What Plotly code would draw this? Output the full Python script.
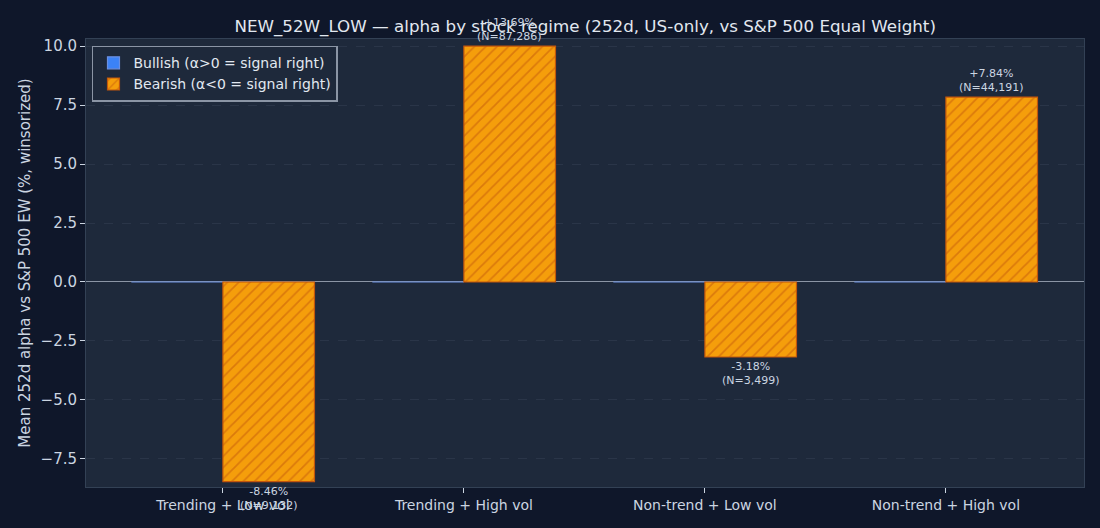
import numpy as np
import plotly.graph_objects as go

categories = ["Trending + Low vol", "Trending + High vol", "Non-trend + Low vol", "Non-trend + High vol"]
bullish_alpha = [0.0, 0.0, 0.0, 0.0]
bearish_alpha = [-8.46, 13.69, -3.18, 7.84]
bearish_n = [9132, 87286, 3499, 44191]
display_cap = 10.0
y_range = [-8.69, 10.30]

xs = list(range(len(categories)))
bear_plot = list(np.minimum(np.array(bearish_alpha), display_cap))

fig = go.Figure()
fig.add_trace(go.Bar(
    x=xs, y=bullish_alpha, name="Bullish (α>0 = signal right)",
    marker=dict(color="#3b82f6", line=dict(color="#6b8fe0", width=1.2)),
    offsetgroup="a",
))
fig.add_trace(go.Bar(
    x=xs, y=bear_plot, name="Bearish (α<0 = signal right)",
    marker=dict(color="#f59e0b", line=dict(color="#c2560c", width=1.2),
                pattern=dict(shape="/", fgcolor="#c2560c", bgcolor="#f59e0b", size=8, solidity=0.22)),
    offsetgroup="b",
))

for i, (v, pv, n) in enumerate(zip(bearish_alpha, bear_plot, bearish_n)):
    txt = f"{v:+.2f}%<br>(N={n:,})"
    fig.add_annotation(
        x=i + 0.19, y=pv, xref="x", yref="y", text=txt, showarrow=False,
        yanchor="bottom" if v >= 0 else "top", yshift=1 if v >= 0 else -1,
        font=dict(size=11, color="#cbd5e1", family="DejaVu Sans"),
    )

fig.update_layout(
    width=1100, height=528,
    paper_bgcolor="#0f172a", plot_bgcolor="#1e293b",
    margin=dict(l=86, r=16, t=39, b=41),
    barmode="group", bargap=0.24, bargroupgap=0,
    font=dict(family="DejaVu Sans", color="#cbd5e1", size=14),
    title=dict(text="NEW_52W_LOW — alpha by stock regime (252d, US-only, vs S&P 500 Equal Weight)",
               x=0.532, xanchor="center", y=0.951, yanchor="middle",
               font=dict(size=16.7, color="#e2e8f0", family="DejaVu Sans")),
    legend=dict(x=0.006, y=0.985, xanchor="left", yanchor="top",
                bgcolor="#1e293b", bordercolor="#8b95a5", borderwidth=1.5,
                font=dict(size=14, color="#e2e8f0"), tracegroupgap=0),
    showlegend=True,
)
fig.update_xaxes(
    range=[-0.568, 3.573], tickvals=xs, ticktext=categories,
    showgrid=False, zeroline=False, ticks="outside", ticklen=5, tickcolor="#cbd5e1",
    showline=True, linecolor="#334155", mirror=True,
    tickfont=dict(size=14, color="#cbd5e1"),
)
fig.update_yaxes(
    range=y_range, dtick=2.5, tickformat=".1f",
    showgrid=True, gridcolor="#2a3548", griddash="dash", gridwidth=1,
    zeroline=True, zerolinecolor="#8b95a5", zerolinewidth=1,
    ticks="outside", ticklen=5, tickcolor="#cbd5e1",
    showline=True, linecolor="#334155", mirror=True,
    tickfont=dict(size=15, color="#cbd5e1"),
    title=dict(text="Mean 252d alpha vs S&P 500 EW (%, winsorized)", font=dict(size=15, color="#cbd5e1"), standoff=6),
)

fig.write_html("out.html", config={"displayModeBar": False},
               post_script="document.body.style.margin='0';document.body.style.padding='0';document.body.style.background='#0f172a';")
